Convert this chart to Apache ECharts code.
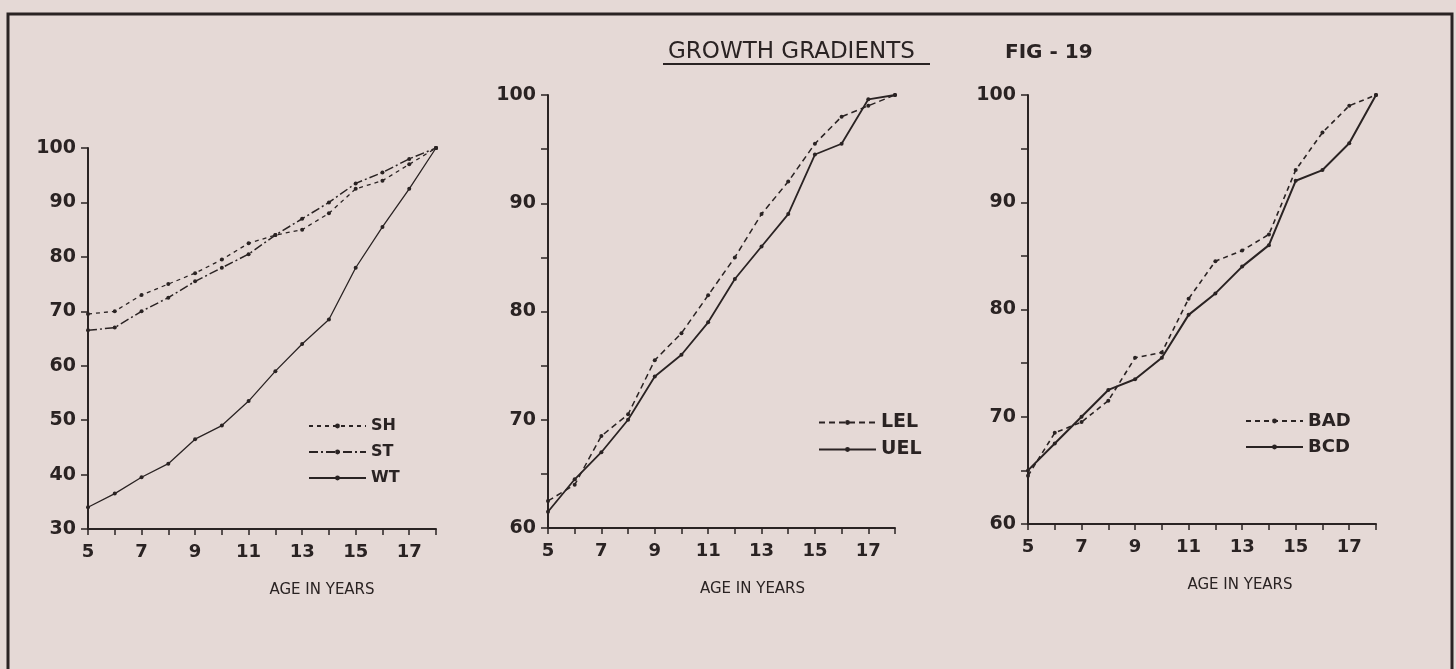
<!DOCTYPE html>
<html>
<head>
<meta charset="utf-8">
<script src="https://cdn.jsdelivr.net/npm/echarts@6/dist/echarts.min.js"></script>
<style>
  html, body { margin: 0; padding: 0; background: #e5d9d6; }
  #chart { width: 1456px; height: 669px; }
</style>
</head>
<body>
<div id="chart"></div>
<script>
// Ages (years) shared by all three panels
const ages = [5, 6, 7, 8, 9, 10, 11, 12, 13, 14, 15, 16, 17, 18];

// Percent of adult value reached at each age
const sh  = [69.5, 70, 73, 75, 77, 79.5, 82.5, 84, 85, 88, 92.5, 94, 97, 100];
const st  = [66.5, 67, 70, 72.5, 75.5, 78, 80.5, 84, 87, 90, 93.5, 95.5, 98, 100];
const wt  = [34, 36.5, 39.5, 42, 46.5, 49, 53.5, 59, 64, 68.5, 78, 85.5, 92.5, 100];
const lel = [62.5, 64, 68.5, 70.5, 75.5, 78, 81.5, 85, 89, 92, 95.5, 98, 99, 100];
const uel = [61.5, 64.5, 67, 70, 74, 76, 79, 83, 86, 89, 94.5, 95.5, 99.6, 100];
const bad = [64.5, 68.5, 69.5, 71.5, 75.5, 76, 81, 84.5, 85.5, 87, 93, 96.5, 99, 100];
const bcd = [65, 67.5, 70, 72.5, 73.5, 75.5, 79.5, 81.5, 84, 86, 92, 93, 95.5, 100];

// Tick labels
const ageLabels = [5, 7, 9, 11, 13, 15, 17];
const leftLabels = [30, 40, 50, 60, 70, 80, 90, 100];
const rightLabels = [60, 70, 80, 90, 100];

const INK = '#2a2323';
const FONT = 'DejaVu Sans';

function pairs(vals) { return ages.map((a, i) => [a, vals[i]]); }

function xAxisFor(gridIndex, namePad) {
  return {
    type: 'value', gridIndex, min: 5, max: 18, interval: 1,
    name: 'AGE IN YEARS', nameLocation: 'middle', nameGap: 54,
    nameTextStyle: { color: INK, fontFamily: FONT, fontSize: 15, padding: [0, 0, 0, namePad] },
    axisLine: { lineStyle: { color: INK, width: 2 } },
    axisTick: { length: 6, lineStyle: { color: INK, width: 1.5 } },
    axisLabel: {
      color: INK, fontFamily: FONT, fontSize: 18, fontWeight: 'bold', margin: 14,
      formatter: v => ageLabels.includes(v) ? String(v) : ''
    },
    splitLine: { show: false }
  };
}

function yAxisFor(gridIndex, min, interval, labels) {
  return {
    type: 'value', gridIndex, min, max: 100, interval,
    axisLine: { show: true, lineStyle: { color: INK, width: 2 } },
    axisTick: { show: true, length: 7, lineStyle: { color: INK, width: 1.5 } },
    axisLabel: {
      color: INK, fontFamily: FONT, fontSize: 19, fontWeight: 'bold', margin: 12,
      formatter: v => labels.includes(v) ? String(v) : ''
    },
    splitLine: { show: false }
  };
}

function lineSeries(name, idx, vals, type, width) {
  return {
    name, type: 'line', xAxisIndex: idx, yAxisIndex: idx,
    data: pairs(vals),
    symbol: 'circle', symbolSize: 4,
    itemStyle: { color: INK },
    lineStyle: { color: INK, width, type },
    emphasis: { disabled: true },
    animation: false
  };
}

function legendFor(names, left, top, fontSize, gap) {
  return {
    data: names, orient: 'vertical', left, top,
    itemWidth: 57, itemHeight: 6, itemGap: gap,
    textStyle: { color: INK, fontFamily: FONT, fontSize, fontWeight: 'bold' },
    selectedMode: false
  };
}

const chart = echarts.init(document.getElementById('chart'), null, { renderer: 'canvas' });

chart.setOption({
  backgroundColor: '#e5d9d6',
  animation: false,
  title: [
    { text: 'GROWTH GRADIENTS', left: 663, top: 36,
      textStyle: { color: INK, fontFamily: FONT, fontSize: 23, fontWeight: 'normal' } },
    { text: 'FIG - 19', left: 1000, top: 38,
      textStyle: { color: INK, fontFamily: FONT, fontSize: 20, fontWeight: 'bold' } }
  ],
  graphic: [
    { type: 'rect', silent: true,
      shape: { x: 8, y: 14, width: 1444, height: 700 },
      style: { fill: 'none', stroke: INK, lineWidth: 3 } },
    { type: 'line', silent: true,
      shape: { x1: 663, y1: 64, x2: 930, y2: 64 },
      style: { stroke: INK, lineWidth: 2 } }
  ],
  grid: [
    { left: 88, top: 148, width: 348, height: 381 },
    { left: 548, top: 95, width: 347, height: 433 },
    { left: 1028, top: 95, width: 348, height: 429 }
  ],
  xAxis: [xAxisFor(0, 120), xAxisFor(1, 62), xAxisFor(2, 76)],
  yAxis: [
    yAxisFor(0, 30, 10, leftLabels),
    yAxisFor(1, 60, 5, rightLabels),
    yAxisFor(2, 60, 5, rightLabels)
  ],
  legend: [
    legendFor(['SH', 'ST', 'WT'], 303, 413, 16, 10),
    legendFor(['LEL', 'UEL'], 813, 408, 19, 8),
    legendFor(['BAD', 'BCD'], 1240, 407, 18, 8)
  ],
  series: [
    lineSeries('SH', 0, sh, [4, 4], 1.3),
    lineSeries('ST', 0, st, [9, 3, 2, 3], 1.5),
    lineSeries('WT', 0, wt, 'solid', 1.3),
    lineSeries('LEL', 1, lel, [6, 4], 1.5),
    lineSeries('UEL', 1, uel, 'solid', 1.8),
    lineSeries('BAD', 2, bad, [5, 4], 1.6),
    lineSeries('BCD', 2, bcd, 'solid', 2)
  ]
});
</script>
</body>
</html>
